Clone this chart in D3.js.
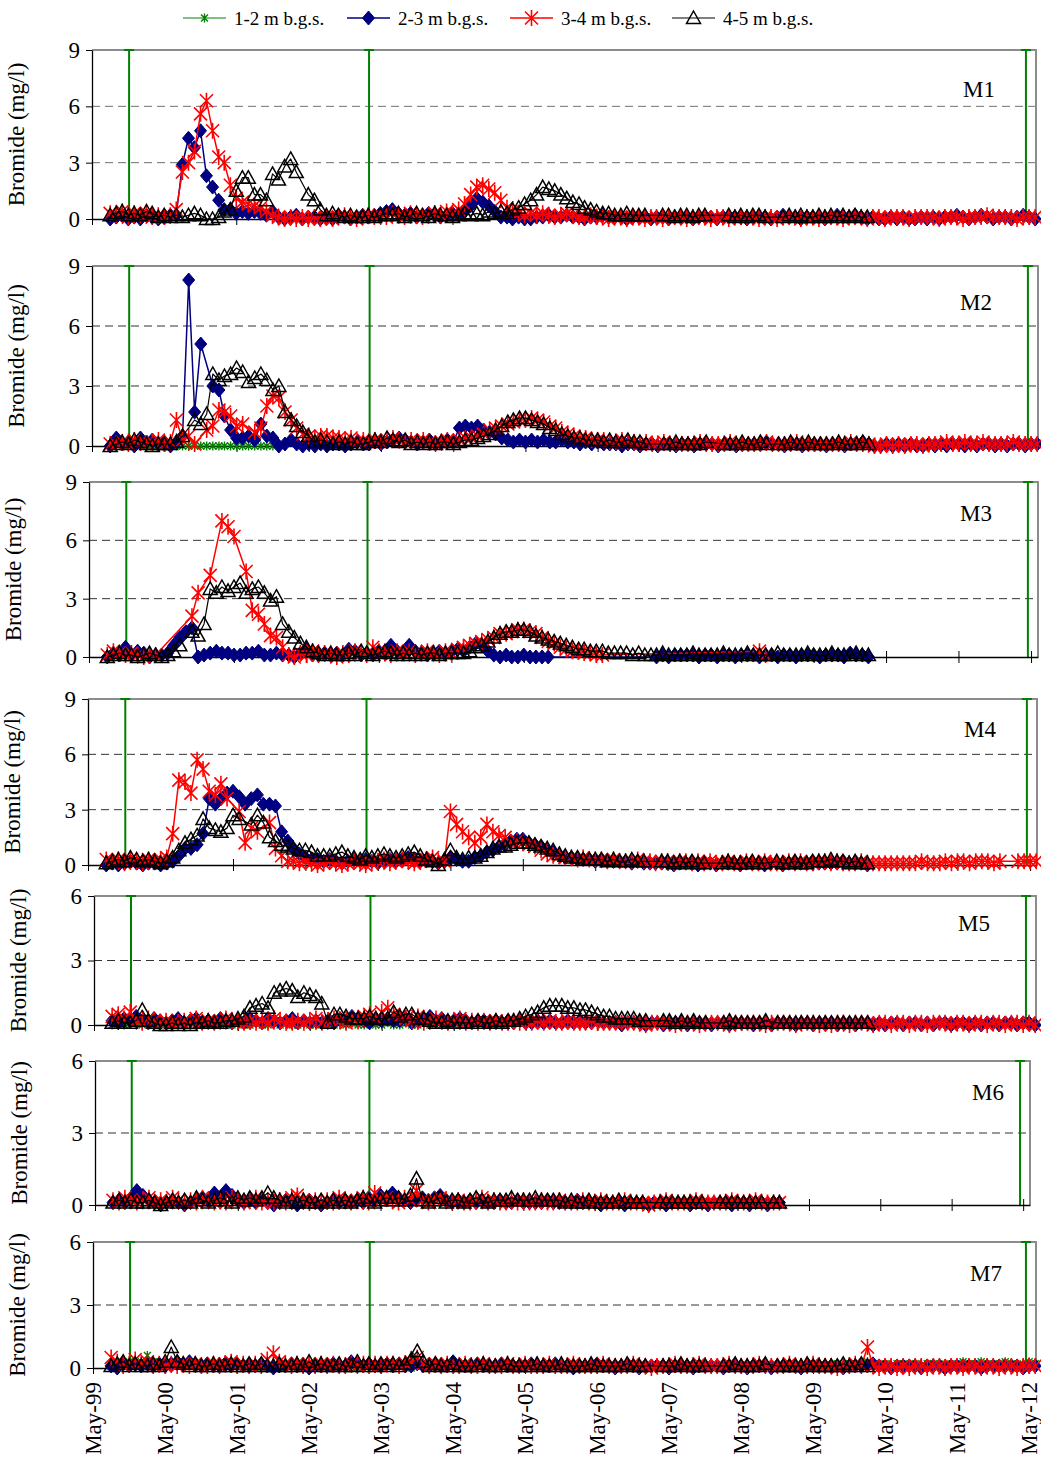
<!DOCTYPE html>
<html>
<head>
<meta charset="utf-8">
<script src="https://cdn.jsdelivr.net/npm/d3@7"></script>
<style>
  body { margin: 0; background: #fff; }
  svg { display: block; font-family: "Liberation Serif", "Times New Roman", serif; }
</style>
</head>
<body>
<div id="chart"></div>
<script>
'use strict';

// time axis: May-99 .. Jun-12, samples are monthly starting Aug-99 (month 3)
var START = new Date(1999, 4, 1);
var END = new Date(2012, 5, 5);
var FIRST_SAMPLE = 3;

var seriesNames = ['1-2 m b.g.s.', '2-3 m b.g.s.', '3-4 m b.g.s.', '4-5 m b.g.s.'];
var panelNames = ['M1', 'M2', 'M3', 'M4', 'M5', 'M6', 'M7'];
var panelMax = [9, 9, 9, 9, 6, 6, 6];
var tickLabels = ['May-99', 'May-00', 'May-01', 'May-02', 'May-03', 'May-04', 'May-05',
                  'May-06', 'May-07', 'May-08', 'May-09', 'May-10', 'May-11', 'May-12'];
var applicationDates = ['1999-11-05', '2003-03-05', '2012-04-15'];

// ---- M1 ----
var m1Green = [];
var m1Blue = [
  0.0,0.1,0.2,0.0,0.1,0.0,0.2,0.1,0.0,0.1,0.2,0.2,
  2.9,4.3,3.8,4.7,2.3,1.7,1.0,0.5,0.5,0.3,0.4,0.3,
  0.4,0.3,0.2,0.4,0.1,0.0,0.1,0.2,0.0,0.1,0.1,0.0,
  0.1,0.0,0.2,0.1,0.0,0.1,0.2,0.1,0.2,0.3,0.4,0.5,
  0.3,0.2,0.3,0.1,0.2,0.3,0.2,0.1,0.2,0.3,0.2,0.4,
  0.7,1.1,0.9,0.7,0.4,0.1,0.1,0.0,0.1,0.0,0.0,0.1,
  0.1,0.2,0.1,0.1,0.2,0.1,0.1,0.0,0.1,0.1,0.2,0.1,
  0.1,0.1,0.0,0.1,0.1,0.1,0.0,0.1,0.1,0.0,0.1,0.1,
  0.1,0.0,0.1,0.1,0.1,0.0,0.1,0.1,0.1,0.1,0.0,0.1,
  0.1,0.1,0.0,0.1,0.2,0.1,0.1,0.0,0.1,0.1,0.1,0.0,
  0.1,0.2,0.1,0.1,0.2,0.1,0.0,0.1,0.0,0.0,0.1,0.0,
  0.1,0.0,0.0,0.1,0.0,0.1,0.0,0.1,0.1,0.2,0.1,0.0,
  0.1,0.2,0.1,0.0,0.1,0.1,0.0,0.1,0.2,0.1,0.0];
var m1Red = [
  0.3,0.2,0.4,0.1,0.3,0.2,0.3,0.1,0.2,0.1,0.2,0.5,
  2.5,3.0,3.6,5.6,6.3,4.7,3.3,3.0,1.8,1.1,0.9,0.8,
  0.7,0.6,0.4,0.2,0.1,0.0,0.1,0.0,0.1,0.0,0.1,0.0,
  0.1,0.0,0.1,0.2,0.1,0.0,0.1,0.2,0.1,0.2,0.1,0.3,
  0.2,0.1,0.3,0.2,0.1,0.2,0.3,0.2,0.4,0.3,0.5,0.8,
  1.3,1.7,1.8,1.6,1.4,1.0,0.6,0.4,0.3,0.2,0.3,0.2,
  0.3,0.2,0.1,0.2,0.3,0.2,0.1,0.1,0.2,0.1,0.1,0.0,
  0.1,0.1,0.0,0.1,0.1,0.0,0.1,0.1,0.0,0.1,0.1,0.1,
  0.0,0.1,0.1,0.1,0.0,0.1,0.1,0.0,0.1,0.1,0.1,0.1,
  0.0,0.1,0.1,0.0,0.1,0.1,0.1,0.0,0.1,0.1,0.0,0.1,
  0.1,0.1,0.0,0.1,0.1,0.1,0.0,0.1,0.1,0.0,0.1,0.1,
  0.1,0.0,0.1,0.1,0.1,0.1,0.0,0.1,0.1,0.1,0.0,0.1,
  0.1,0.1,0.2,0.1,0.1,0.1,0.1,0.0,0.1,0.1,0.1];
var m1Black = [
  0.2,0.3,0.4,0.2,0.3,0.2,0.4,0.3,0.1,0.2,0.1,0.2,
  0.1,0.2,0.3,0.2,0.0,0.0,0.1,0.4,0.5,1.5,2.2,2.2,
  1.3,1.3,1.0,2.4,2.1,2.8,3.2,2.5,null,1.3,1.0,0.5,
  0.2,0.3,0.2,0.1,0.2,0.1,0.1,0.2,0.1,0.2,0.3,0.2,
  0.3,0.1,0.2,0.3,0.2,0.1,0.3,0.2,0.2,0.1,0.2,0.3,
  0.2,0.3,0.2,0.4,0.3,0.4,0.3,0.5,0.6,0.8,1.0,1.3,
  1.7,1.6,1.5,1.3,1.1,0.9,0.8,0.6,0.5,0.4,0.3,0.3,
  0.2,0.2,0.3,0.2,0.2,0.2,null,null,0.2,0.2,0.1,0.2,
  0.2,0.1,0.2,0.2,null,null,null,0.2,0.1,0.2,0.1,0.2,
  0.2,0.1,null,null,0.1,0.2,0.1,0.2,0.1,0.1,0.2,0.1,
  0.2,0.1,0.2,0.1,0.2,0.1,0.1];

// ---- M2 ----
var m2Green = [null,null,null,
  0,0,0,0,0,0,0,0,0,0,0,0,0,0,0,0,0,0,0,0,0,0,0,0,0];
var m2Blue = [
  0.0,0.4,0.1,0.2,0.0,0.4,0.2,0.3,0.1,0.2,0.0,0.2,
  0.5,8.3,1.7,5.1,null,3.0,2.8,1.5,0.8,0.4,0.4,0.5,
  0.3,1.1,0.5,0.4,0.0,0.1,0.3,0.1,0.0,0.1,0.0,0.1,
  0.0,0.1,0.1,0.0,0.1,0.2,0.1,0.1,0.2,0.1,0.2,0.3,
  0.4,0.3,0.2,0.1,0.2,0.3,0.1,0.2,0.3,0.2,0.9,1.0,
  0.9,1.0,0.8,0.7,0.6,0.4,0.3,0.2,0.3,0.2,0.3,0.2,
  0.3,0.2,0.2,0.3,0.2,0.2,0.1,0.2,0.1,0.2,0.1,0.1,
  0.1,0.0,0.1,0.1,0.0,0.1,0.1,0.0,0.1,0.1,0.0,0.1,
  0.1,0.0,0.1,0.1,0.1,0.0,0.1,0.1,0.0,0.1,0.1,0.1,
  0.1,0.2,0.1,0.1,0.0,0.1,0.1,0.0,0.1,0.1,0.1,0.0,
  0.1,0.1,0.0,0.1,0.1,0.2,0.1,0.0,0.0,0.1,0.0,0.1,
  0.0,0.1,0.0,0.0,0.1,0.0,0.1,0.0,0.1,0.1,0.0,0.1,
  0.0,0.1,0.1,0.0,0.1,0.0,0.1,0.1,0.0,0.1,0.1];
var m2Red = [
  0.1,0.1,0.2,0.1,0.3,0.2,0.1,0.2,0.3,0.1,0.2,1.3,
  0.3,0.5,0.1,null,0.8,1.0,1.8,1.7,1.5,1.0,1.1,null,
  0.7,0.9,2.0,2.5,2.4,1.7,1.3,0.9,0.6,0.5,0.4,0.5,
  0.5,0.4,0.4,0.3,0.4,0.2,0.3,0.2,0.3,0.2,0.3,0.4,
  0.3,0.2,0.3,0.2,0.3,0.2,0.1,0.2,0.3,0.2,0.3,0.4,
  0.4,0.5,0.6,0.8,0.9,1.0,1.1,1.2,1.3,1.3,1.4,1.3,
  1.2,1.0,0.9,0.7,0.6,0.5,0.4,0.4,0.3,0.3,0.3,0.2,
  0.2,0.3,0.2,0.2,0.1,0.2,0.1,0.1,0.2,0.1,0.1,0.1,
  0.1,0.1,0.2,0.1,0.1,0.1,0.1,0.2,0.1,0.1,0.1,0.1,
  0.1,0.2,0.1,0.1,0.1,0.1,0.2,0.1,0.1,0.1,0.1,0.1,
  0.1,0.1,0.1,0.2,0.1,0.1,0.1,0.0,0.0,0.1,0.0,0.1,
  0.0,0.1,0.1,0.0,0.1,0.1,0.1,0.2,0.1,0.1,0.2,0.1,
  0.1,0.2,0.1,0.1,0.1,0.1,0.2,0.1,0.1,0.1,0.1];
var m2Black = [
  0.0,0.1,0.2,0.1,0.3,0.2,0.1,0.0,0.1,0.1,0.1,0.2,
  0.5,null,1.3,1.1,1.6,3.6,3.3,3.5,3.6,3.9,3.7,3.2,
  3.4,3.6,3.3,2.8,3.0,1.7,1.3,1.0,0.7,0.5,0.2,0.3,
  0.2,0.1,0.2,0.1,0.2,0.1,0.1,0.2,0.3,0.2,0.4,0.3,
  0.2,0.3,0.1,0.2,0.1,0.2,0.1,0.2,0.2,0.1,0.2,0.3,
  0.3,0.4,0.5,0.6,0.8,1.0,1.2,1.3,1.4,1.4,1.3,1.2,
  1.1,0.9,0.8,0.6,0.5,0.4,0.4,0.3,0.3,0.3,0.2,0.3,
  0.2,0.2,0.3,0.2,0.2,0.1,null,null,0.1,0.1,0.2,0.1,
  0.1,0.1,0.1,0.2,null,null,0.1,0.1,0.1,0.2,0.1,0.1,
  0.2,0.1,null,0.1,0.1,0.2,0.1,0.1,0.2,0.1,0.1,0.1,
  0.1,0.2,0.1,0.1,0.1,0.2,0.1];

// ---- M3 ----
var m3Green = [];
var m3Blue = [
  0.0,0.2,0.1,0.5,0.1,0.3,0.2,0.0,0.1,0.1,0.2,0.6,
  1.0,1.3,1.5,0.0,0.1,0.2,0.3,0.2,0.2,0.1,0.1,0.2,
  0.2,0.3,0.1,0.1,0.2,0.1,0.1,0.0,0.2,0.4,0.1,0.1,
  0.2,0.1,0.2,0.1,0.4,0.3,0.1,0.2,0.1,0.3,0.2,0.6,
  0.3,0.2,0.6,0.3,0.2,0.1,0.2,0.3,0.2,0.3,0.4,0.3,
  0.5,0.7,0.6,0.3,0.1,0.0,0.1,0.0,0.0,0.1,0.0,0.0,
  0.0,0.0,null,null,null,null,null,null,null,null,null,null,
  null,null,null,null,null,null,null,0.0,0.1,0.0,0.1,0.1,
  0.1,0.1,0.0,0.1,0.1,0.0,0.1,0.1,0.0,0.1,0.1,0.1,
  0.0,0.1,0.1,0.0,0.1,0.1,0.0,0.1,0.1,0.1,0.0,0.1,
  0.1,0.1,0.0,0.2,0.1,0.1,0.0];
var m3Red = [
  0.1,0.3,0.2,0.1,0.2,0.1,0.0,0.1,0.1,null,null,null,
  null,null,2.1,3.3,null,4.2,null,7.0,6.7,6.2,null,4.4,
  2.4,2.2,1.7,1.1,1.0,0.5,0.1,0.0,0.2,0.1,0.3,0.1,
  0.2,0.1,0.0,0.2,0.1,0.3,0.2,0.1,0.5,0.3,0.2,0.1,
  0.3,0.2,0.3,0.1,0.2,0.3,0.2,0.1,0.3,0.2,0.4,0.5,
  0.6,0.7,0.8,0.9,1.0,1.2,1.2,1.3,1.4,1.4,1.3,1.2,
  1.0,0.8,0.7,0.5,0.4,0.3,0.3,0.2,0.2,0.1,0.1,null,
  null,null,null,null,null,null,null,null,null,null,null,null,
  null,null,null,null,null,null,null,null,null,null,null,null,
  0.3,0.1];
var m3Black = [
  0.0,0.1,0.2,0.1,0.1,0.0,0.1,0.2,0.1,0.0,0.1,0.3,
  0.6,null,1.3,1.1,1.7,3.5,3.3,3.6,3.4,3.6,3.8,3.3,
  3.5,3.6,3.3,2.9,3.1,1.7,1.3,1.0,0.7,0.5,0.3,0.2,
  0.1,0.2,0.1,0.1,0.2,0.1,0.3,0.2,0.1,0.2,0.3,0.2,
  0.1,0.2,0.1,0.2,0.1,0.2,0.2,0.1,0.2,0.2,0.2,0.2,
  0.3,0.5,0.6,0.8,1.0,1.2,1.3,1.3,1.4,1.4,1.3,1.1,
  1.0,0.9,0.8,0.7,0.6,0.5,0.4,0.4,0.3,0.3,0.3,0.2,
  0.2,0.2,0.2,0.1,0.2,0.1,0.1,0.1,0.2,0.1,0.1,0.1,
  0.1,0.2,0.1,0.1,0.1,0.1,0.2,0.1,0.1,0.1,0.2,0.1,
  0.1,0.1,0.1,0.2,0.1,0.1,0.1,0.1,0.2,0.1,0.1,0.1,
  0.2,0.1,0.1,0.1,0.2,0.1,0.1];

// ---- M4 ----
var m4Green = [];
var m4Blue = [
  0.0,0.1,0.0,0.1,0.2,0.1,0.0,0.1,0.1,0.0,0.1,0.2,
  0.5,0.9,0.9,1.1,1.7,3.6,3.3,3.6,3.9,4.0,3.7,3.3,
  3.6,3.8,3.3,3.3,3.2,1.8,1.3,0.9,0.6,0.4,0.3,0.3,
  0.2,0.3,0.2,0.1,0.2,0.3,0.2,0.3,0.2,0.1,0.2,0.3,
  0.2,0.3,0.4,0.3,0.2,0.3,0.2,0.1,0.2,0.4,0.3,0.2,
  0.2,0.4,0.5,0.7,0.8,1.0,1.1,1.3,1.4,1.4,1.2,1.1,
  1.0,0.8,0.7,0.5,0.4,0.4,0.3,0.3,0.3,0.2,0.3,0.2,
  0.2,0.2,0.2,0.1,0.2,0.1,0.1,0.1,0.1,0.1,0.0,0.1,
  0.1,0.1,0.0,0.1,0.1,0.0,0.1,0.1,0.1,0.0,0.1,0.1,
  0.1,0.0,0.1,0.1,0.0,0.1,0.1,0.1,0.1,0.2,0.1,0.1,
  0.1,0.1,0.2,0.1,0.1,0.1,0.0];
var m4Red = [
  0.3,0.2,0.3,0.1,0.3,0.2,0.1,0.3,0.2,0.3,0.4,1.7,
  4.6,4.5,3.9,5.7,5.2,4.0,3.8,4.4,3.6,null,2.9,1.2,
  2.0,1.8,null,2.3,0.9,0.5,0.2,0.2,0.1,0.2,0.1,0.0,
  0.1,0.2,0.1,0.0,0.1,0.2,0.1,0.0,0.1,0.2,0.3,0.1,
  0.2,0.3,0.2,0.1,0.2,0.3,0.4,0.2,0.2,2.9,2.2,1.8,
  1.5,1.2,1.5,2.2,1.8,1.6,1.5,1.2,1.3,1.2,1.1,1.0,
  0.8,0.6,0.5,0.5,0.4,0.4,0.3,0.4,0.3,0.3,0.3,0.2,
  0.3,0.2,0.2,0.2,0.3,0.2,0.2,0.1,0.2,0.2,0.1,0.2,
  0.2,0.1,0.2,0.1,0.2,0.1,0.1,0.2,0.1,0.1,0.2,0.1,
  0.1,0.2,0.1,0.1,0.1,0.2,0.1,0.2,0.1,0.1,0.2,0.2,
  0.1,0.2,0.1,0.1,0.1,0.2,0.1,0.1,0.1,0.1,0.1,0.1,
  0.1,0.1,0.1,0.2,0.1,0.1,0.1,0.2,0.1,0.2,0.2,0.1,
  0.2,0.2,0.2,0.1,0.2,null,null,0.2,0.2,0.2,0.2];
var m4Black = [
  0.1,0.2,0.3,0.2,0.4,0.3,0.2,0.3,0.2,0.1,0.2,0.4,
  0.8,1.2,1.4,1.6,2.5,2.0,1.9,1.8,2.0,2.7,2.5,null,
  2.2,2.7,2.3,1.5,1.3,1.1,1.0,0.9,0.8,0.8,0.7,0.5,
  0.5,0.5,0.6,0.7,0.5,0.4,0.3,0.5,0.4,0.5,0.6,0.5,
  0.4,0.5,0.6,0.7,0.5,0.3,0.2,0.0,0.3,0.8,0.4,0.3,
  0.4,0.4,0.5,0.7,0.9,1.0,1.0,1.1,1.2,1.2,1.2,1.1,
  1.0,0.9,0.8,0.6,0.5,0.4,0.4,0.3,0.3,0.3,0.3,0.2,
  0.3,0.2,0.2,0.3,0.2,0.2,null,null,0.2,0.2,0.1,0.2,
  0.1,0.2,0.1,0.1,null,null,0.1,0.2,0.1,0.1,0.1,0.2,
  0.1,0.1,null,0.2,0.1,0.1,0.2,0.1,0.1,0.2,0.2,0.2,
  0.3,0.2,0.2,0.1,0.2,0.1,0.1];

// ---- M5 ----
var m5Green = [
  0.0,0.1,0.0,0.1,0.1,0.0,0.1,0.0,0.0,0.1,0.0,0.1,
  0.0,0.1,0.0,0.0,0.1,0.0,0.1,0.0,0.0,0.1,0.0,0.0,
  0.1,0.0,0.0,0.1,0.0,0.1,0.0,0.0,0.1,0.0,0.0,0.1,
  0.0,0.0,0.1,0.0,0.1,0.0,0.0,0.1,0.0,0.0,0.1,0.0,
  0.0,0.1,0.0,0.0,0.1,0.0,0.1,0.0,0.0,0.1,0.0,0.0];
var m5Blue = [
  0.2,0.1,0.3,0.2,0.4,0.2,0.1,0.3,0.2,0.1,0.2,0.3,
  0.1,0.2,0.3,0.1,0.2,0.1,0.3,0.2,0.1,0.2,0.1,0.3,
  0.2,0.1,0.3,0.2,0.1,0.2,0.3,0.1,0.2,0.1,0.2,0.1,
  0.2,0.1,0.3,0.2,0.4,0.3,0.2,0.1,0.3,0.2,0.3,0.2,
  0.2,0.3,0.1,0.2,0.3,0.4,0.2,0.3,0.1,0.2,0.3,0.2,
  0.1,0.2,0.2,0.1,0.2,0.1,0.2,0.1,0.2,0.1,0.1,0.2,
  0.1,0.2,0.1,0.1,0.2,0.1,0.2,0.1,0.1,0.2,0.1,0.1,
  0.1,0.0,0.1,0.1,0.1,0.0,0.1,0.1,0.0,0.1,0.1,0.1,
  0.0,0.1,0.1,0.1,0.0,0.1,0.1,0.0,0.1,0.1,0.1,0.0,
  0.1,0.1,0.0,0.1,0.1,0.1,0.0,0.1,0.1,0.0,0.1,0.1,
  0.1,0.0,0.1,0.1,0.0,0.1,0.1,0.0,0.1,0.0,0.1,0.1,
  0.0,0.1,0.1,0.0,0.1,0.0,0.1,0.1,0.0,0.1,0.1,0.0,
  0.1,0.0,0.1,0.1,0.0,0.1,0.1,0.0,0.1,0.1,0.0];
var m5Red = [
  0.4,0.5,0.3,0.6,0.2,0.1,0.3,0.2,0.1,0.2,0.1,0.1,
  0.2,0.1,0.3,0.1,0.2,0.1,0.2,0.3,0.2,0.1,0.1,0.2,
  0.1,0.2,0.1,0.3,0.2,0.1,0.1,0.2,0.1,0.2,0.3,0.1,
  0.2,0.3,0.2,0.1,0.3,0.2,0.4,0.5,0.3,0.6,0.8,0.5,
  0.4,0.3,0.2,0.4,0.1,0.2,0.3,0.2,0.1,0.2,0.3,0.1,
  0.2,0.1,0.2,0.1,0.2,0.1,0.1,0.2,0.1,0.2,0.1,0.2,
  0.1,0.2,0.1,0.1,0.2,0.1,0.1,0.1,0.2,0.1,0.1,0.1,
  0.1,0.1,0.1,0.1,0.1,0.0,0.1,0.1,0.1,0.1,0.0,0.1,
  0.1,0.1,0.0,0.1,0.1,0.1,0.1,0.0,0.1,0.1,0.1,0.1,
  0.1,0.0,0.1,0.1,0.1,0.1,0.0,0.1,0.1,0.1,0.0,0.1,
  0.0,0.1,0.1,0.0,0.1,0.1,0.1,0.0,0.1,0.1,0.0,0.1,
  0.1,0.0,0.1,0.1,0.0,0.1,0.1,0.1,0.0,0.1,0.1,0.0,
  0.1,0.1,0.0,0.1,0.1,0.0,0.1,0.1,0.0,0.1,0.0];
var m5Black = [
  0.1,0.2,0.1,0.1,0.2,0.7,0.2,0.1,0.0,0.0,0.1,0.0,
  0.1,0.0,0.1,0.1,0.2,0.1,0.1,0.2,0.2,0.3,0.4,0.8,
  0.9,1.0,0.8,1.5,1.6,1.7,1.6,1.3,1.5,1.4,1.3,1.0,
  0.1,0.5,0.5,0.4,0.3,0.3,0.3,0.4,0.3,0.3,0.3,0.6,
  0.4,0.5,0.5,0.3,0.3,0.2,0.1,0.1,0.2,0.1,0.1,0.1,
  0.1,0.2,0.1,0.1,0.2,0.1,0.2,0.2,0.3,0.4,0.5,0.6,
  0.8,0.9,0.9,0.9,0.8,0.8,0.7,0.7,0.6,0.5,0.4,0.4,
  0.3,0.3,0.3,0.3,0.2,0.2,null,null,0.2,0.2,0.1,0.2,
  0.1,0.2,0.1,0.1,null,null,0.1,0.2,0.1,0.1,0.1,0.1,
  0.1,0.2,null,0.1,0.1,0.1,0.1,0.1,0.1,0.1,0.1,0.1,
  0.1,0.1,0.1,0.1,0.1,0.1,0.1];

// ---- M6 ----
var m6Green = [];
var m6Blue = [
  0.1,0.2,0.1,0.3,0.6,0.4,0.2,0.1,0.0,0.1,0.2,0.1,
  0.0,0.1,0.2,0.3,0.2,0.5,0.3,0.6,0.4,0.2,0.1,0.2,
  0.1,0.2,0.1,0.0,0.1,0.2,0.1,0.0,0.1,0.2,0.1,0.0,
  0.1,0.2,0.1,0.2,0.1,0.2,0.1,0.3,0.2,0.4,0.3,0.5,
  0.3,0.2,0.1,0.2,0.3,0.2,0.3,0.4,0.2,0.1,0.2,0.1,
  0.2,0.1,0.2,0.1,0.1,0.2,0.1,0.1,0.2,0.1,0.1,0.1,
  0.1,0.2,0.1,0.1,0.1,0.1,0.2,0.1,0.1,0.1,0.0,0.1,
  0.1,0.1,0.0,0.1,0.1,0.1,0.0,0.1,0.1,0.0,0.1,0.1,
  0.1,0.0,0.1,0.1,0.0,0.1,0.1,0.1,0.0,0.1,0.1,0.0,
  0.1,0.1,0.0,0.1,0.1];
var m6Red = [
  0.2,0.1,0.3,0.2,0.1,0.2,0.3,0.1,0.2,0.1,0.3,0.2,
  0.1,0.2,0.1,0.3,0.2,0.1,0.2,0.1,0.3,0.2,0.1,0.2,
  0.3,0.1,0.2,0.1,0.2,0.1,0.3,0.4,0.2,0.1,0.2,0.1,
  0.2,0.1,0.3,0.2,0.1,0.2,0.3,0.1,0.5,0.2,0.3,0.2,
  0.1,0.3,0.2,0.6,0.2,0.1,0.2,0.3,0.2,0.1,0.2,0.1,
  0.1,0.2,0.3,0.1,0.2,0.1,0.1,0.2,0.1,0.2,0.1,0.1,
  0.2,0.1,0.1,0.2,0.1,0.1,0.1,0.2,0.1,0.1,0.2,0.1,
  0.1,0.1,0.2,0.1,0.1,0.1,0.0,0.1,0.1,0.2,0.1,0.1,
  0.1,0.1,0.2,0.1,0.1,0.1,0.1,0.1,0.2,0.1,0.1,0.1,
  0.2,0.1,0.1,0.1,0.1];
var m6Black = [
  0.1,0.2,0.1,0.2,0.1,0.1,0.2,0.1,0.0,0.1,0.2,0.1,
  0.2,0.1,0.3,0.2,0.1,0.2,0.3,0.2,0.1,0.3,0.2,0.3,
  0.2,0.3,0.5,0.3,0.2,0.1,0.2,0.1,0.2,0.1,0.1,0.2,
  0.1,0.2,0.1,0.2,0.1,0.2,0.3,0.2,0.1,0.2,0.3,0.2,
  0.3,0.2,0.4,1.1,0.2,0.1,0.2,0.3,0.1,0.2,0.2,0.1,
  0.2,0.3,0.2,0.1,0.2,0.2,0.2,0.3,0.2,0.2,0.2,0.3,
  0.2,0.2,0.2,0.2,0.1,0.2,0.1,0.1,0.2,0.1,0.1,0.1,
  0.1,0.2,0.1,0.1,0.1,0.1,null,null,0.1,0.1,0.1,0.1,
  0.1,0.1,0.1,0.1,null,null,0.1,0.1,0.1,0.1,0.1,0.1,
  0.1,0.1,null,0.1,0.1];

// ---- M7 ----
var m7Green = [
  0.1,0.2,0.1,0.3,0.2,0.3,0.6,0.3,0.2,0.1,0.2,0.1,
  0.1,0.2,0.1,0.1,0.2,0.1,0.1,0.2,0.1,0.1,0.1,0.2,
  0.1,0.0,0.1,0.1,0.0,0.1,0.1,0.0,0.1,0.1,0.0,0.1,
  0.1,0.0,0.1,0.1,0.1,0.0,0.1,0.1,0.0,0.1,0.1,0.0,
  0.1,0.1,0.0,0.1,0.1,0.0,0.1,0.0,0.1,0.1,0.0,0.1,
  0.0,0.1,0.1,0.0,0.1,0.1,0.0,0.1,0.0,0.1,0.1,0.0,
  0.1,0.0,0.1,0.1,0.0,0.1,0.1,0.0,0.1,0.0,0.1,0.1,
  0.0,0.1,0.1,0.0,0.1,0.0,0.1,0.1,0.0,0.1,0.1,0.0,
  0.1,0.1,0.0,0.1,0.0,0.1,0.1,0.0,0.1,0.1,0.0,0.1,
  0.1,0.0,0.1,0.1,0.0,0.1,0.0,0.1,0.1,0.0,0.1,0.1,
  0.1,0.2,0.1,0.2,0.1,0.2,0.3,0.2,0.1,0.2,0.1,0.2,
  0.2,0.1,0.2,0.1,0.2,0.2,0.1,0.2,0.1,0.2,0.3,0.2,
  0.2,0.3,0.2,0.1,0.2,0.3,0.2,0.1,0.2,0.3,0.2];
var m7Blue = [
  0.1,0.0,0.2,0.1,0.2,0.1,0.2,0.1,0.2,0.1,0.2,0.3,
  0.2,0.3,0.2,0.1,0.2,0.1,0.1,0.2,0.1,0.2,0.1,0.1,
  0.1,0.2,0.1,0.0,0.1,0.1,0.2,0.1,0.1,0.0,0.1,0.1,
  0.1,0.2,0.1,0.1,0.3,0.2,0.1,0.2,0.1,0.1,0.2,0.1,
  0.2,0.1,0.1,0.2,0.1,0.1,0.2,0.1,0.1,0.3,0.1,0.1,
  0.1,0.2,0.1,0.1,0.1,0.2,0.1,0.1,0.1,0.1,0.2,0.1,
  0.1,0.1,0.2,0.1,0.1,0.0,0.1,0.1,0.1,0.2,0.1,0.1,
  0.0,0.1,0.1,0.1,0.0,0.1,0.1,0.1,0.1,0.0,0.1,0.1,
  0.1,0.0,0.1,0.1,0.1,0.1,0.0,0.1,0.1,0.1,0.0,0.1,
  0.1,0.1,0.0,0.1,0.1,0.1,0.1,0.0,0.1,0.1,0.1,0.1,
  0.1,0.1,0.0,0.1,0.1,0.1,0.1,0.2,0.1,0.1,0.0,0.1,
  0.1,0.1,0.1,0.0,0.1,0.1,0.1,0.0,0.1,0.1,0.1,0.1,
  0.1,0.0,0.1,0.1,0.1,0.1,0.1,0.1,0.0,0.1,0.1];
var m7Red = [
  0.5,0.3,0.1,0.2,0.4,0.2,0.3,0.1,0.2,0.1,0.2,0.1,
  0.2,0.1,0.2,0.1,0.1,0.2,0.1,0.2,0.3,0.1,0.2,0.1,
  0.2,0.1,0.4,0.7,0.3,0.2,0.1,0.2,0.1,0.2,0.1,0.2,
  0.1,0.2,0.1,0.1,0.2,0.1,0.2,0.1,0.2,0.1,0.2,0.2,
  0.1,0.2,0.3,0.5,0.2,0.1,0.2,0.1,0.2,0.1,0.1,0.2,
  0.1,0.1,0.2,0.1,0.1,0.1,0.2,0.1,0.1,0.2,0.1,0.1,
  0.1,0.2,0.1,0.1,0.1,0.2,0.1,0.1,0.1,0.1,0.2,0.1,
  0.1,0.1,0.1,0.2,0.1,0.1,0.0,0.1,0.1,0.1,0.2,0.1,
  0.1,0.1,0.2,0.1,0.1,0.1,0.1,0.2,0.1,0.1,0.1,0.1,
  0.2,0.1,0.1,0.1,0.1,0.2,0.1,0.1,0.1,0.2,0.1,0.1,
  0.1,0.0,0.1,0.1,0.2,0.1,1.0,0.1,0.0,0.1,0.1,0.0,
  0.1,0.0,0.1,0.1,0.0,0.1,0.1,0.0,0.1,0.1,0.0,0.1,
  0.1,0.0,0.1,0.1,0.0,0.1,0.1,0.0,0.1,0.1,0.1];
var m7Black = [
  0.1,0.2,0.3,0.1,0.2,0.1,0.1,0.2,0.1,0.3,1.0,0.3,
  0.2,0.1,0.2,0.1,0.1,0.2,0.1,0.1,0.2,0.1,0.1,0.2,
  0.1,0.2,0.1,0.1,0.2,0.1,0.1,0.2,0.1,0.3,0.1,0.2,
  0.1,0.1,0.2,0.1,0.1,0.3,0.1,0.2,0.1,0.2,0.1,0.2,
  0.1,0.2,0.4,0.8,0.3,0.1,0.2,0.1,0.1,0.2,0.1,0.1,
  0.1,0.1,0.2,0.1,0.1,0.1,0.2,0.1,0.1,0.1,0.1,0.2,
  0.1,0.1,0.1,0.2,0.1,0.1,0.1,0.1,0.2,0.1,0.1,0.1,
  0.1,0.1,0.2,0.1,0.1,0.1,null,null,0.1,0.1,0.1,0.2,
  0.1,0.1,0.1,0.1,null,null,0.1,0.1,0.2,0.1,0.1,0.1,
  0.1,0.2,null,0.1,0.1,0.1,0.1,0.1,0.2,0.1,0.1,0.1,
  0.1,0.1,0.2,0.1,0.1,0.2,0.1];

var panelData = [
  [m1Green, m1Blue, m1Red, m1Black],
  [m2Green, m2Blue, m2Red, m2Black],
  [m3Green, m3Blue, m3Red, m3Black],
  [m4Green, m4Blue, m4Red, m4Black],
  [m5Green, m5Blue, m5Red, m5Black],
  [m6Green, m6Blue, m6Red, m6Black],
  [m7Green, m7Blue, m7Red, m7Black]
];

//posição de cada painel na página
var layout = [
  {left: 92, right: 1036, top: 50,   zero: 219,  labelX: 995,  labelY: 97},
  {left: 92, right: 1038, top: 266,  zero: 446,  labelX: 992,  labelY: 310},
  {left: 89, right: 1038, top: 482,  zero: 657,  labelX: 992,  labelY: 521},
  {left: 88, right: 1037, top: 699,  zero: 865,  labelX: 996,  labelY: 737},
  {left: 94, right: 1036, top: 896,  zero: 1025, labelX: 990,  labelY: 931},
  {left: 95, right: 1030, top: 1061, zero: 1205, labelX: 1004, labelY: 1100},
  {left: 93, right: 1036, top: 1242, zero: 1368, labelX: 1002, labelY: 1281}
];

//estilos das séries
var styles = [
  {color: '#008000', fill: 'none',    lineWidth: 1.2, marker: 'M-3.5,-3.5L3.5,3.5M-3.5,3.5L3.5,-3.5M0,-4.5L0,4.5', markerWidth: 1.4},
  {color: '#000080', fill: '#000080', lineWidth: 1.5, marker: 'M0,-7L6,0L0,7L-6,0Z', markerWidth: 1},
  {color: '#ff0000', fill: 'none',    lineWidth: 1.5, marker: 'M-6.5,-6.5L6.5,6.5M-6.5,6.5L6.5,-6.5M0,-8L0,8', markerWidth: 1.6},
  {color: '#000000', fill: 'none',    lineWidth: 1.2, marker: 'M0,-7L7,5.5L-7,5.5Z', markerWidth: 1.5}
];

var FONT = 'Liberation Serif, Times New Roman, serif';

var svg = d3.select('#chart').append('svg')
  .attr('width', 1041)
  .attr('height', 1463);

function toPoints(values)
{
  return values
    .map(function(v, i) { return {date: d3.timeMonth.offset(START, FIRST_SAMPLE + i), v: v}; })
    .filter(function(d) { return d.v !== null && d.v !== undefined; });
}

function drawPanel(p)
{
  var L = layout[p];
  var ymax = panelMax[p];
  var x = d3.scaleTime().domain([START, END]).range([L.left, L.right]);
  var y = d3.scaleLinear().domain([0, ymax]).range([L.zero, L.top]);
  var g = svg.append('g').attr('class', 'panel-' + panelNames[p]);

  // dashed gridlines
  var gridVals = d3.range(3, ymax, 3);
  g.selectAll('line.grid').data(gridVals).enter().append('line')
    .attr('x1', L.left).attr('x2', L.right)
    .attr('y1', function(d) { return y(d); }).attr('y2', function(d) { return y(d); })
    .attr('stroke', p === 0 ? '#707070' : '#333')
    .attr('stroke-width', 1)
    .attr('stroke-dasharray', '8,5');

  // frame top/right
  g.append('path')
    .attr('d', 'M' + L.left + ',' + L.top + 'H' + L.right + 'V' + L.zero)
    .attr('fill', 'none').attr('stroke', '#8c8c8c').attr('stroke-width', 2);

  // bromide application dates
  var appDates = applicationDates.map(function(s) { return d3.timeParse('%Y-%m-%d')(s); });
  var app = g.selectAll('g.app').data(appDates).enter().append('g');
  app.append('line')
    .attr('x1', function(d) { return x(d); }).attr('x2', function(d) { return x(d); })
    .attr('y1', y(0)).attr('y2', y(ymax))
    .attr('stroke', '#008000').attr('stroke-width', 2);
  app.append('line')
    .attr('x1', function(d) { return x(d) - 5; }).attr('x2', function(d) { return x(d) + 5; })
    .attr('y1', y(ymax)).attr('y2', y(ymax))
    .attr('stroke', '#008000').attr('stroke-width', 2);

  // x axis (crossing ticks at every May)
  var tickDates = tickLabels.map(function(t, i) { return d3.timeYear.offset(START, i); });
  var xAxis = d3.axisBottom(x).tickValues(tickDates).tickSizeInner(6).tickSizeOuter(0).tickFormat('');
  var xg = g.append('g').attr('transform', 'translate(0,' + L.zero + ')').call(xAxis);
  xg.select('.domain').attr('stroke', '#000').attr('stroke-width', 1.3);
  xg.selectAll('.tick line').attr('y1', -6).attr('y2', 6).attr('stroke', '#000');

  // y axis
  var yAxis = d3.axisLeft(y)
    .tickValues(d3.range(0, ymax + 1, 3))
    .tickFormat(d3.format('d'))
    .tickSizeInner(6).tickSizeOuter(0).tickPadding(6);
  var yg = g.append('g').attr('transform', 'translate(' + L.left + ',0)').call(yAxis);
  yg.select('.domain').attr('stroke', '#000').attr('stroke-width', 1.3);
  yg.selectAll('.tick line').attr('stroke', '#000');
  yg.selectAll('.tick text')
    .attr('font-family', FONT).attr('font-size', 23).attr('fill', '#000');

  // series
  var line = d3.line()
    .x(function(d) { return x(d.date); })
    .y(function(d) { return y(d.v); });

  panelData[p].forEach(function(values, s) {
    var pts = toPoints(values);
    if (!pts.length) return;
    var st = styles[s];
    var sg = g.append('g').attr('class', 'series-' + s);
    sg.append('path').datum(pts)
      .attr('fill', 'none')
      .attr('stroke', st.color)
      .attr('stroke-width', st.lineWidth)
      .attr('stroke-linejoin', 'round')
      .attr('d', line);
    sg.selectAll('path.mk').data(pts).enter().append('path')
      .attr('class', 'mk')
      .attr('transform', function(d) { return 'translate(' + x(d.date) + ',' + y(d.v) + ')'; })
      .attr('d', st.marker)
      .attr('fill', st.fill)
      .attr('stroke', st.color)
      .attr('stroke-width', st.markerWidth);
  });

  // y label
  g.append('text')
    .attr('transform', 'translate(' + (L.left - 68) + ',' + ((L.top + L.zero) / 2) + ') rotate(-90)')
    .attr('text-anchor', 'middle')
    .attr('font-family', FONT).attr('font-size', 23)
    .text('Bromide (mg/l)');

  // panel name
  g.append('text')
    .attr('x', L.labelX).attr('y', L.labelY)
    .attr('text-anchor', 'end')
    .attr('font-family', FONT).attr('font-size', 23)
    .text(panelNames[p]);

  // date labels only under the last panel
  if (p === panelNames.length - 1)
  {
    g.selectAll('text.xlab').data(tickDates).enter().append('text')
      .attr('class', 'xlab')
      .attr('transform', function(d) { return 'translate(' + x(d) + ',' + (L.zero + 14) + ') rotate(-90)'; })
      .attr('text-anchor', 'end')
      .attr('dy', '0.35em')
      .attr('font-family', FONT).attr('font-size', 23)
      .text(function(d, i) { return tickLabels[i]; });
  }
}

function drawLegend()
{
  var items = [183, 347, 510, 672];
  var lg = svg.append('g').attr('class', 'legend');
  seriesNames.forEach(function(name, s) {
    var st = styles[s];
    var x0 = items[s];
    lg.append('line')
      .attr('x1', x0).attr('x2', x0 + 43).attr('y1', 18).attr('y2', 18)
      .attr('stroke', st.color).attr('stroke-width', st.lineWidth);
    lg.append('path')
      .attr('transform', 'translate(' + (x0 + 21.5) + ',18)')
      .attr('d', st.marker)
      .attr('fill', st.fill)
      .attr('stroke', st.color)
      .attr('stroke-width', st.markerWidth);
    lg.append('text')
      .attr('x', x0 + 51).attr('y', 18).attr('dy', '0.35em')
      .attr('font-family', FONT).attr('font-size', 19)
      .text(name);
  });
}

panelNames.forEach(function(n, p) { drawPanel(p); });
drawLegend();
</script>
</body>
</html>
